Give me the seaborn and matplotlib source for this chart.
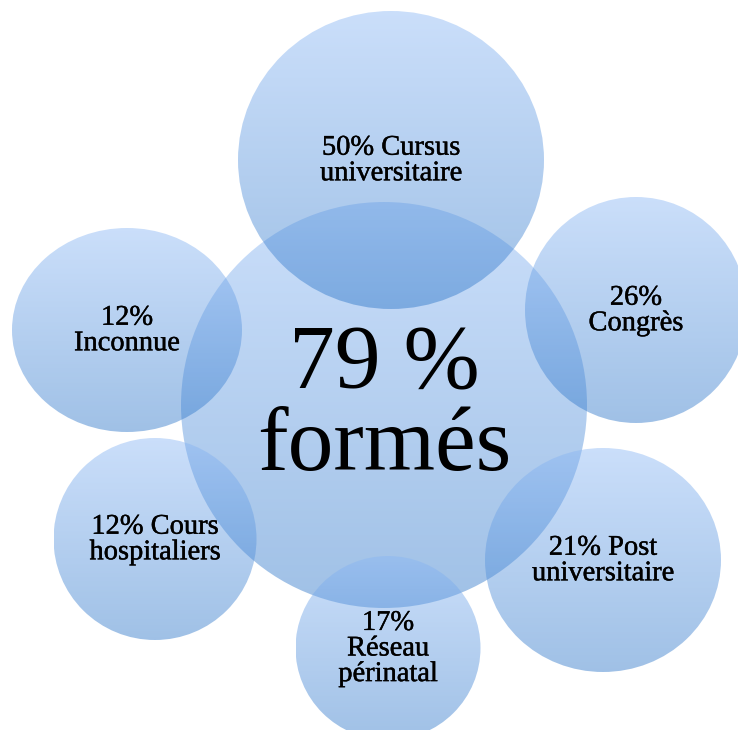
import numpy as np
import matplotlib
matplotlib.use("Agg")
import matplotlib.pyplot as plt
import matplotlib.patheffects as pe
from matplotlib.patches import Ellipse
import seaborn as sns

# Données
centre_txt = "79 %\nformés"
pourcentages = [50, 26, 21, 17, 12, 12]
libelles = ["Cursus\nuniversitaire", "\nCongrès", "Post\nuniversitaire",
            "\nRéseau\npérinatal", "Cours\nhospitaliers", "\nInconnue"]

# Mise en page des bulles (pixels, y vers le bas)
bulle_centre = (384, 405, 406, 406)
bulles_x = [391, 636, 603, 388, 155, 127]
bulles_y = [160, 310, 560, 648, 539, 330]
bulles_w = [306, 222, 236, 185, 203, 230]
bulles_h = [298, 226, 224, 184, 202, 204]

sns.set_theme(style="white")
plt.rcParams['font.family'] = ['Liberation Serif', 'DejaVu Serif']

degrade = sns.blend_palette(["#8ab7f5", "#2a74c8"], n_colors=256, as_cmap=True)
grad = np.linspace(0, 1, 256)[:, None]

fig = plt.figure(figsize=(7.38, 7.30), dpi=100)
ax = fig.add_axes([0, 0, 1, 1])
ax.set_axis_off()


def bulle(cx, cy, w, h):
    e = Ellipse((cx, cy), w, h, facecolor='none', edgecolor='none')
    ax.add_patch(e)
    im = ax.imshow(grad, cmap=degrade, extent=(cx - w / 2, cx + w / 2, cy + h / 2, cy - h / 2),
                   origin='upper', aspect='auto', alpha=0.45, interpolation='bilinear')
    im.set_clip_path(e)


bulle(*bulle_centre)
for cx, cy, w, h in zip(bulles_x, bulles_y, bulles_w, bulles_h):
    bulle(cx, cy, w, h)

ax.text(bulle_centre[0], bulle_centre[1] + 2, centre_txt, ha='center', va='center',
        fontsize=66, linespacing=0.97, color='black')

epais = [pe.withStroke(linewidth=0.3, foreground='black')]
for p, lib, cx, cy in zip(pourcentages, libelles, bulles_x, bulles_y):
    sep = "" if lib.startswith("\n") else " "
    ax.text(cx, cy + 1, f"{p}%{sep}{lib}", ha='center', va='center', fontsize=20.5,
            linespacing=1.03, color='black', path_effects=epais)

ax.set_xlim(0, 738)
ax.set_ylim(730, 0)

plt.savefig("out.png", dpi=100)
